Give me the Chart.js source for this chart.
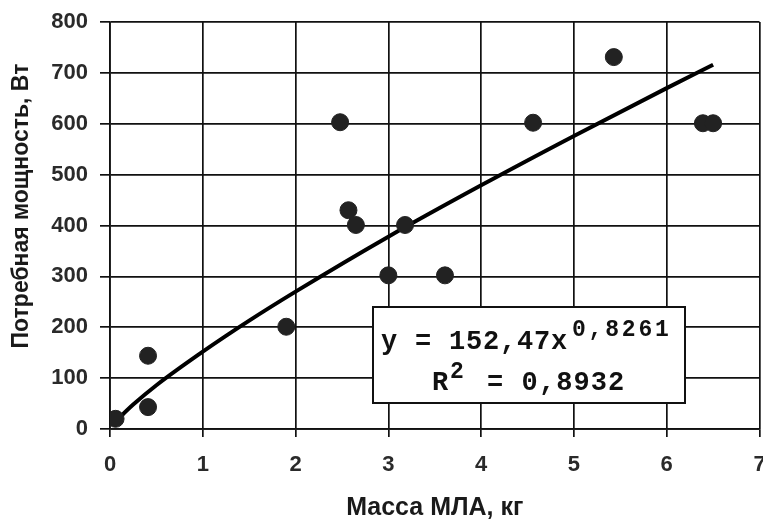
<!DOCTYPE html>
<html lang="ru">
<head>
<meta charset="UTF-8">
<title>Потребная мощность</title>
<style>
  html, body { margin: 0; padding: 0; background: #fff; overflow: hidden; }
  #wrap { width: 769px; height: 525px; }
</style>
</head>
<body>
<div id="wrap"><canvas id="chart"></canvas></div>
<script src="https://cdn.jsdelivr.net/npm/chart.js"></script>
<script>
// measured points: mass of the UAV (kg) vs required power (W)
const massKg = [0.06, 0.41, 0.41, 1.9, 2.48, 2.57, 2.65, 3.0, 3.18, 3.61, 4.56, 5.43, 6.39, 6.5];
const powerW = [20, 144, 43, 201, 603, 430, 401, 302, 401, 302, 602, 731, 601, 601];

// power trend line
const trendX = [0.06, 0.25, 0.5, 1, 1.5, 2, 3, 4, 5, 6, 6.5];
const trendY = [15, 48, 86, 152, 213, 270, 378, 479, 576, 670, 716];

const xTicks = [0, 1, 2, 3, 4, 5, 6, 7];
const yTicks = [0, 100, 200, 300, 400, 500, 600, 700, 800];

const xTitle = 'Масса МЛА, кг';
const yTitle = 'Потребная мощность, Вт';
const eqMain = 'y = 152,47x';
const eqPow = '0,8261';
const r2Label = 'R';
const r2Pow = '2';
const r2Value = '= 0,8932';

// draws a string one character at a time with a fixed advance (monospace look)
function monoText(ctx, s, x, y, step) {
  for (let i = 0; i < s.length; i++) ctx.fillText(s[i], x + i * step, y);
}

const extras = {
  id: 'extras',
  afterDraw(chart) {
    const ctx = chart.ctx;
    ctx.save();
    // y axis title, rotated
    ctx.fillStyle = '#1a1a1a';
    ctx.font = 'bold 23px "Liberation Sans", Arial, sans-serif';
    ctx.textAlign = 'center';
    ctx.textBaseline = 'middle';
    ctx.translate(22, 206);
    ctx.rotate(-Math.PI / 2);
    ctx.fillText(yTitle, 0, 0);
    ctx.restore();

    // equation box
    ctx.save();
    ctx.fillStyle = '#fff';
    ctx.fillRect(373, 307, 312, 96);
    ctx.strokeStyle = '#111';
    ctx.lineWidth = 2;
    ctx.strokeRect(373, 307, 312, 96);
    ctx.fillStyle = '#111';
    ctx.textAlign = 'left';
    ctx.textBaseline = 'alphabetic';
    ctx.font = 'bold 27px "Liberation Mono", "DejaVu Sans Mono", monospace';
    monoText(ctx, eqMain, 381, 349, 17);
    ctx.font = 'bold 23px "Liberation Mono", "DejaVu Sans Mono", monospace';
    monoText(ctx, eqPow, 572, 336, 16.6);
    ctx.font = 'bold 27px "Liberation Mono", "DejaVu Sans Mono", monospace';
    monoText(ctx, r2Label, 432, 390, 17);
    monoText(ctx, r2Value, 487, 390, 17.3);
    ctx.font = 'bold 23px "Liberation Mono", "DejaVu Sans Mono", monospace';
    monoText(ctx, r2Pow, 450, 378, 17);
    ctx.restore();
  }
};

new Chart(document.getElementById('chart'), {
  type: 'scatter',
  data: {
    datasets: [
      {
        label: 'trend',
        type: 'line',
        data: trendX.map((x, i) => ({ x: x, y: trendY[i] })),
        borderColor: '#000',
        borderWidth: 4,
        pointRadius: 0,
        fill: false,
        cubicInterpolationMode: 'monotone',
        order: 2
      },
      {
        label: 'data',
        data: massKg.map((x, i) => ({ x: x, y: powerW[i] })),
        backgroundColor: '#222',
        borderColor: '#222',
        pointRadius: 8.5,
        pointHoverRadius: 8.5,
        order: 1
      }
    ]
  },
  options: {
    responsive: true,
    maintainAspectRatio: false,
    animation: false,
    layout: { padding: { left: 0, right: 0, top: 22, bottom: 0 } },
    plugins: {
      legend: { display: false },
      tooltip: { enabled: false }
    },
    scales: {
      x: {
        type: 'linear',
        min: 0,
        max: 7,
        afterFit: s => { s.height = 96; s.paddingLeft = 0; s.paddingRight = 0; },
        afterBuildTicks: s => { s.ticks = xTicks.map(v => ({ value: v })); },
        ticks: {
          padding: 15,
          color: '#2a2a2a',
          font: { family: '"Liberation Sans", Arial, sans-serif', size: 22, weight: 'bold' }
        },
        grid: { color: '#111', lineWidth: 1.7, tickLength: 8 },
        border: { color: '#111', width: 1.7 },
        title: {
          display: true,
          text: xTitle,
          color: '#1a1a1a',
          padding: { top: 0, bottom: 2 },
          font: { family: '"Liberation Sans", Arial, sans-serif', size: 25, weight: 'bold' }
        }
      },
      y: {
        min: 0,
        max: 800,
        afterFit: s => { s.width = 110; s.paddingTop = 0; s.paddingBottom = 0; },
        afterBuildTicks: s => { s.ticks = yTicks.map(v => ({ value: v })); },
        ticks: {
          padding: 12,
          color: '#2a2a2a',
          font: { family: '"Liberation Sans", Arial, sans-serif', size: 22, weight: 'bold' }
        },
        grid: { color: '#111', lineWidth: 1.7, tickLength: 10 },
        border: { color: '#111', width: 1.7 }
      }
    }
  },
  plugins: [extras]
});
</script>
</body>
</html>
